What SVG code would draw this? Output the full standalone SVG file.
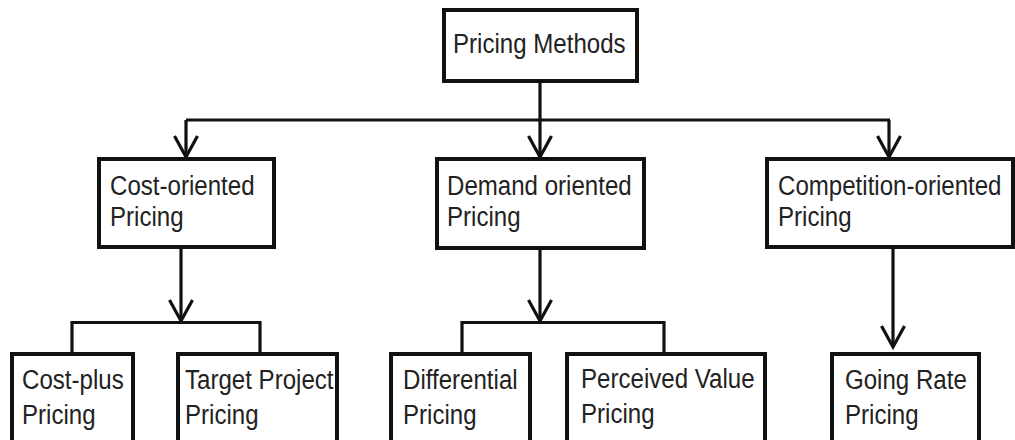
<svg xmlns="http://www.w3.org/2000/svg" width="1015" height="440" viewBox="0 0 1015 440">
<style>
.box{fill:#fff;stroke:#111;stroke-width:4}
.lbl{font-family:"Liberation Sans",Arial,sans-serif;font-size:28px;fill:#222}
.con{fill:none;stroke:#111;stroke-width:3.2}
</style>
<defs>
<marker id="arr" markerUnits="userSpaceOnUse" markerWidth="40" markerHeight="40" refX="0" refY="0" viewBox="-30 -20 40 40" orient="auto" overflow="visible">
<path d="M-21,-11.5 L0,0 L-21,11.5" fill="none" stroke="#111" stroke-width="3.2"/>
</marker>
</defs>
<rect width="1015" height="440" fill="#fff"/>
<g id="connectors">
<path class="con" d="M540,81 V120 M186,120 H890"/>
<path class="con" d="M186,120 V157" marker-end="url(#arr)"/>
<path class="con" d="M540,120 V157" marker-end="url(#arr)"/>
<path class="con" d="M889,120 V157" marker-end="url(#arr)"/>
<path class="con" d="M181,247 V321" marker-end="url(#arr)"/>
<path class="con" d="M72,354 V322.5 H260 V354"/>
<path class="con" d="M540,248 V321" marker-end="url(#arr)"/>
<path class="con" d="M462,353 V322.5 H664 V353"/>
<path class="con" d="M893,247 V347" marker-end="url(#arr)"/>
</g>
<g id="pricing-methods">
<rect class="box" x="444" y="10" width="193" height="71"/>
<text class="lbl" transform="translate(453,53) scale(0.86,1)">Pricing Methods</text>
</g>
<g id="cost-oriented">
<rect class="box" x="99" y="159" width="175" height="88"/>
<text class="lbl" transform="translate(110,195) scale(0.86,1)">Cost-oriented</text>
<text class="lbl" transform="translate(110,226) scale(0.86,1)">Pricing</text>
</g>
<g id="demand-oriented">
<rect class="box" x="437" y="159" width="207" height="89"/>
<text class="lbl" transform="translate(447,195) scale(0.86,1)">Demand oriented</text>
<text class="lbl" transform="translate(447,226) scale(0.86,1)">Pricing</text>
</g>
<g id="competition-oriented">
<rect class="box" x="767" y="159" width="246" height="88"/>
<text class="lbl" transform="translate(778,195) scale(0.86,1)">Competition-oriented</text>
<text class="lbl" transform="translate(778,226) scale(0.86,1)">Pricing</text>
</g>
<g id="cost-plus">
<rect class="box" x="12" y="354" width="121" height="100"/>
<text class="lbl" transform="translate(22,389) scale(0.86,1)">Cost-plus</text>
<text class="lbl" transform="translate(22,424) scale(0.86,1)">Pricing</text>
</g>
<g id="target-project">
<rect class="box" x="178" y="354" width="159" height="100"/>
<text class="lbl" transform="translate(185,389) scale(0.86,1)">Target Project</text>
<text class="lbl" transform="translate(185,424) scale(0.86,1)">Pricing</text>
</g>
<g id="differential">
<rect class="box" x="391" y="354" width="139" height="100"/>
<text class="lbl" transform="translate(403,389) scale(0.86,1)">Differential</text>
<text class="lbl" transform="translate(403,424) scale(0.86,1)">Pricing</text>
</g>
<g id="perceived-value">
<rect class="box" x="567" y="354" width="198" height="100"/>
<text class="lbl" transform="translate(581,388) scale(0.86,1)">Perceived Value</text>
<text class="lbl" transform="translate(581,423) scale(0.86,1)">Pricing</text>
</g>
<g id="going-rate">
<rect class="box" x="832" y="354" width="147" height="100"/>
<text class="lbl" transform="translate(845,389) scale(0.86,1)">Going Rate</text>
<text class="lbl" transform="translate(845,424) scale(0.86,1)">Pricing</text>
</g>
</svg>
